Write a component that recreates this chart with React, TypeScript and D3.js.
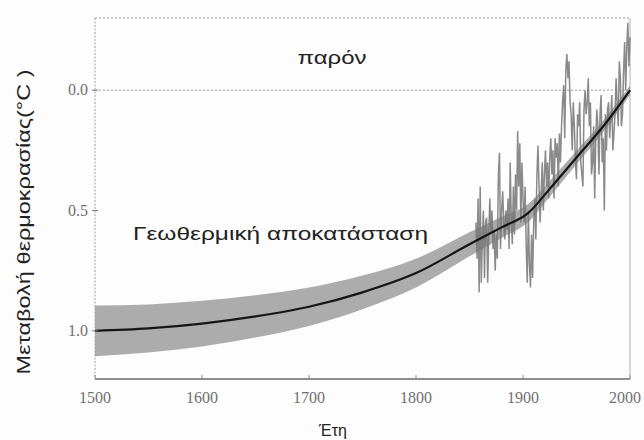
import React from 'react';
import * as d3 from 'd3';

const W = 644;
const H = 440;

// Axis domains and ticks
const X_DOMAIN: [number, number] = [1500, 2000];
const Y_DOMAIN: [number, number] = [-1.2, 0.3];
const X_TICKS = [1500, 1600, 1700, 1800, 1900, 2000];
const X_TICK_LABELS = ['1500', '1600', '1700', '1800', '1900', '2000'];
const Y_TICKS = [0, -0.5, -1.0];
const Y_TICK_LABELS = ['0.0', '0.5', '1.0'];
const GRID_VALUES = [0.3, 0];

// Borehole (geothermal) reconstruction with its uncertainty half-width
const BOREHOLE_YEARS = [1500, 1550, 1600, 1650, 1700, 1750, 1800, 1850, 1880, 1905, 1925, 1950, 1975, 2000];
const BOREHOLE_VALUES = [-1.0, -0.99, -0.97, -0.94, -0.9, -0.84, -0.76, -0.64, -0.57, -0.51, -0.41, -0.28, -0.15, 0.0];
const BOREHOLE_HALF = [0.105, 0.1, 0.095, 0.088, 0.08, 0.07, 0.06, 0.05, 0.044, 0.038, 0.033, 0.028, 0.024, 0.02];

// Annual instrumental record, 1856–2000
const INSTR_START = 1856;
const INSTR_VALUES = [
  -0.55, -0.7, -0.45, -0.84, -0.4, -0.8, -0.62, -0.5, -0.78, -0.55,
  -0.53, -0.8, -0.6, -0.45, -0.59, -0.5, -0.66, -0.58, -0.75, -0.6,
  -0.7, -0.35, -0.26, -0.66, -0.5, -0.42, -0.55, -0.62, -0.5, -0.58,
  -0.45, -0.66, -0.3, -0.52, -0.64, -0.4, -0.6, -0.35, -0.5, -0.17,
  -0.4, -0.22, -0.55, -0.3, -0.45, -0.55, -0.4, -0.65, -0.8, -0.5,
  -0.72, -0.82, -0.6, -0.78, -0.55, -0.45, -0.62, -0.35, -0.23, -0.4,
  -0.55, -0.42, -0.3, -0.5, -0.35, -0.25, -0.4, -0.3, -0.45, -0.28,
  -0.2, -0.35, -0.25, -0.45, -0.2, -0.28, -0.22, -0.4, -0.18, -0.3,
  -0.15, -0.05, 0.02, -0.2, 0.08, 0.15, 0.05, 0.12, -0.05, -0.1,
  -0.25, -0.05, -0.15, -0.3, -0.37, -0.1, -0.15, -0.05, -0.3, -0.35,
  -0.4, -0.08, 0.0, -0.1, -0.05, 0.05, -0.15, -0.05, -0.35, -0.3,
  -0.15, -0.45, -0.2, -0.08, -0.15, -0.35, -0.1, -0.02, -0.3, -0.2,
  -0.5, -0.1, -0.25, -0.08, -0.05, -0.2, -0.12, -0.02, -0.25, -0.18,
  -0.1, 0.05, -0.05, -0.15, 0.12, 0.05, -0.15, -0.1, 0.08, 0.2,
  0.0, 0.18, 0.28, 0.1, 0.22,
];

const LEFT = 95;
const RIGHT = 630;
const TOP = 18;
const BOTTOM = 379;

export default function App() {
  const x = d3.scaleLinear().domain(X_DOMAIN).range([LEFT, RIGHT]);
  const y = d3.scaleLinear().domain(Y_DOMAIN).range([BOTTOM, TOP]);

  const borehole = BOREHOLE_YEARS.map((yr, i) => ({ yr, v: BOREHOLE_VALUES[i], h: BOREHOLE_HALF[i] }));
  const band = d3
    .area<{ yr: number; v: number; h: number }>()
    .x((d) => x(d.yr))
    .y0((d) => y(d.v - d.h))
    .y1((d) => y(d.v + d.h))
    .curve(d3.curveMonotoneX)(borehole) as string;
  const boreLine = d3
    .line<{ yr: number; v: number; h: number }>()
    .x((d) => x(d.yr))
    .y((d) => y(d.v))
    .curve(d3.curveMonotoneX)(borehole) as string;

  const instr = INSTR_VALUES.map((v, i) => ({ yr: INSTR_START + i, v }));
  const instrLine = d3
    .line<{ yr: number; v: number }>()
    .x((d) => x(d.yr))
    .y((d) => y(d.v))(instr) as string;

  const sans = "'Liberation Sans', Arial, sans-serif";
  const serif = "'Liberation Serif', 'Times New Roman', serif";

  return (
    <svg width={W} height={H} style={{ position: 'absolute', left: 0, top: 0, background: '#fdfdfd' }}>
      <rect x={0} y={0} width={W} height={H} fill="#fdfdfd" />

      {/* dotted horizontal guides */}
      {GRID_VALUES.map((g) => (
        <line key={g} x1={LEFT} x2={RIGHT} y1={y(g)} y2={y(g)} stroke="#9a9a9a" strokeWidth={1} strokeDasharray="2,2" />
      ))}

      {/* left and right frame */}
      <line x1={LEFT} x2={LEFT} y1={TOP} y2={BOTTOM} stroke="#a0a0a0" strokeWidth={1} strokeDasharray="2,1.5" />
      <line x1={RIGHT} x2={RIGHT} y1={TOP} y2={BOTTOM} stroke="#b0b0b0" strokeWidth={1} />

      {/* uncertainty band */}
      <path d={band} fill="#a3a3a3" opacity={0.9} />

      {/* instrumental record */}
      <path d={instrLine} fill="none" stroke="#767676" strokeWidth={1.5} opacity={0.85} strokeLinejoin="miter" />

      {/* borehole reconstruction */}
      <path d={boreLine} fill="none" stroke="#151515" strokeWidth={2.2} />

      {/* x axis */}
      <line x1={LEFT} x2={RIGHT} y1={BOTTOM} y2={BOTTOM} stroke="#6a6a6a" strokeWidth={1.3} />
      {X_TICKS.map((t, i) => {
        const last = i === X_TICKS.length - 1;
        return (
          <g key={t}>
            <line x1={x(t)} x2={x(t)} y1={BOTTOM} y2={BOTTOM - 4} stroke="#8a8a8a" />
            <text
              x={last ? W - 3 : x(t)}
              y={403}
              textAnchor={last ? 'end' : 'middle'}
              fontFamily={serif}
              fontSize={16}
              fill="#707070"
            >
              {X_TICK_LABELS[i]}
            </text>
          </g>
        );
      })}

      {/* y axis */}
      {Y_TICKS.map((t, i) => (
        <g key={t}>
          <line x1={LEFT - 3} x2={LEFT + 3} y1={y(t)} y2={y(t)} stroke="#7a7a7a" />
          <text x={88} y={y(t) + 5} textAnchor="end" fontFamily={serif} fontSize={16} fill="#707070">
            {Y_TICK_LABELS[i]}
          </text>
        </g>
      ))}

      {/* annotations */}
      <text x={332} y={64} textAnchor="middle" fontFamily={sans} fontSize={19} fill="#222" textLength={69} lengthAdjust="spacingAndGlyphs">
        παρόν
      </text>
      <text x={133} y={240} fontFamily={sans} fontSize={18} fill="#222" textLength={295} lengthAdjust="spacingAndGlyphs">
        Γεωθερμική αποκατάσταση
      </text>

      {/* axis titles */}
      <text
        transform={`translate(30, 222) rotate(-90)`}
        textAnchor="middle"
        fontFamily={sans}
        fontSize={18}
        fill="#222"
        textLength={305}
        lengthAdjust="spacingAndGlyphs"
      >
        Μεταβολή θερμοκρασίας(°C )
      </text>
      <text x={333} y={436} textAnchor="middle" fontFamily={sans} fontSize={16} fill="#222">
        Έτη
      </text>
    </svg>
  );
}
